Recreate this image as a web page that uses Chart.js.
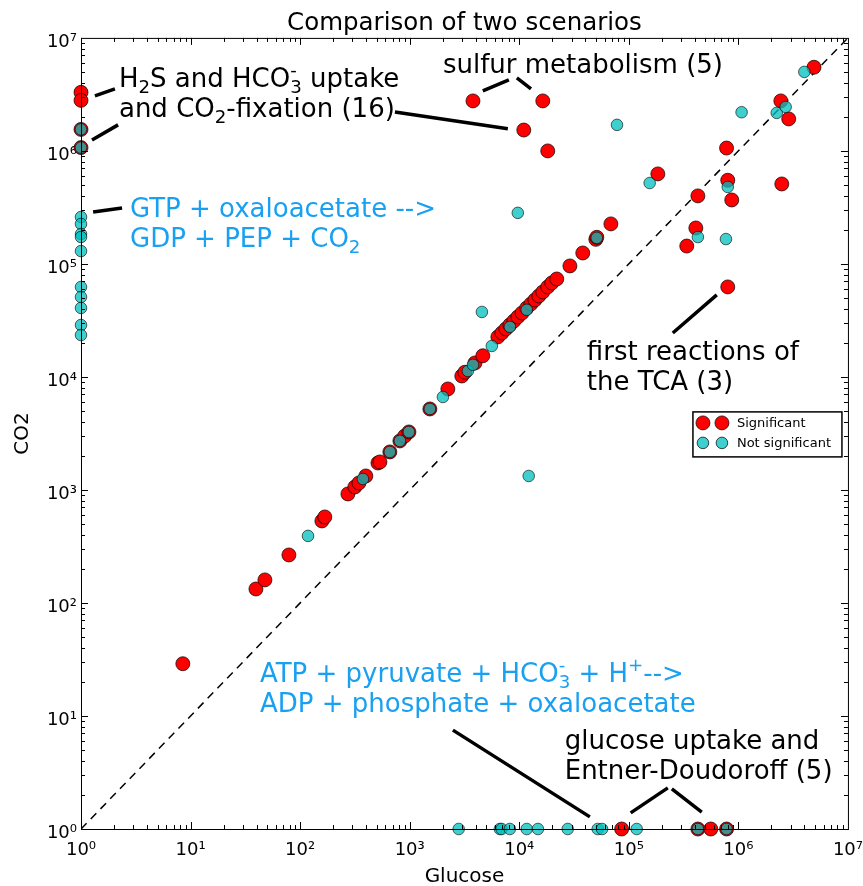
<!DOCTYPE html>
<html>
<head>
<meta charset="utf-8">
<script src="https://cdn.jsdelivr.net/npm/chart.js@4.4.1/dist/chart.umd.min.js"></script>
<style>
  html, body { margin: 0; padding: 0; background: #fff; }
  canvas { display: block; }
</style>
</head>
<body>
<canvas id="chart" width="863" height="886"></canvas>
<script>
// values (Glucose on x, CO2 on y)
const sigGlucose = [
    1, 1, 1, 1,
    86000, 427000, 560000, 780000,
    8.5, 39.5, 47.7, 79, 158, 168, 273, 316, 344, 398, 513, 535, 659, 814, 900, 984,
    1528, 2230, 2990, 3190, 3940, 4650,
    6380, 6940, 7550, 8210, 8930, 9710, 10600, 11700, 12800, 13900, 15100, 16400, 18200, 19800, 22000,
    29000, 38000, 50000, 51000, 68600,
    3780, 16400, 11000, 18200,
    184000, 427000, 409000, 338000, 780000, 800000, 870000, 800000,
    2440000, 2880000, 2490000, 4900000
];
const sigCO2 = [
    3300000, 2800000, 1550000, 1070000,
    1, 1, 1, 1,
    29, 133, 160, 266, 532, 577, 922, 1063, 1153, 1330, 1733, 1770, 2170, 2716, 3000, 3260,
    5210, 7830, 10200, 11000, 13300, 15400,
    22600, 24500, 26600, 28900, 31300, 34000, 36800, 40800, 44300, 48000, 52100, 56500, 62600, 67900, 73600,
    96000, 125000, 165000, 172000, 226000,
    2770000, 2770000, 1530000, 1000000,
    626000, 400000, 208000, 144000, 1060000, 550000, 368000, 62600,
    2770000, 1920000, 510000, 5500000
];
const nsGlucose = [
    1, 1, 1, 1, 1, 1, 1, 1, 1, 1, 1, 1,
    2800, 6650, 6900, 8200, 11700, 14800, 27700, 52000, 57000, 118000, 427000, 780000,
    118, 374, 659, 814, 984, 1528, 2010, 3400, 3780, 5620, 8210, 11700, 51000,
    4560, 9700, 12200, 78000, 155000, 427000, 770000, 800000, 1070000, 2240000, 2700000, 4000000
];
const nsCO2 = [
    1550000, 1070000, 260000, 226000, 184000, 173000, 130000, 62500, 51000, 40800, 28800, 23500,
    1, 1, 1, 1, 1, 1, 1, 1, 1, 1, 1, 1,
    392, 1251, 2170, 2716, 3260, 5210, 6650, 11300, 12800, 18800, 27700, 39200, 170000,
    37600, 283000, 1330, 1700000, 520000, 173000, 166000, 480000, 2200000, 2170000, 2450000, 5000000
];
const diagonal = [1, 1e7];
const decades = [1, 1e1, 1e2, 1e3, 1e4, 1e5, 1e6, 1e7];
const tickLabels = ['10⁰', '10¹', '10²', '10³', '10⁴', '10⁵', '10⁶', '10⁷'];

const RED = 'rgb(255, 0, 0)';
const CYAN = 'rgba(0, 191, 191, 0.75)';
const BLUE = 'rgb(25, 160, 240)';
const FONT = "'DejaVu Sans', sans-serif";

// annotation texts, anchored at data coords (left, first baseline)
const notes = [
    { x: 2.22, y: 3.68e6, color: '#000', lines: ['H_{2}S and HCO_{3}^{-} uptake', 'and CO_{2}-fixation (16)'] },
    { x: 2010, y: 4.9e6, color: '#000', lines: ['sulfur metabolism (5)'] },
    { x: 2.8, y: 2.6e5, color: BLUE, lines: ['GTP + oxaloacetate -->', 'GDP + PEP + CO_{2}'] },
    { x: 41400, y: 14100, color: '#000', lines: ['first reactions of', 'the TCA (3)'] },
    { x: 43, y: 20, color: BLUE, lines: ['ATP + pyruvate + HCO_{3}^{-} + H^{+}-->', 'ADP + phosphate + oxaloacetate'] },
    { x: 26000, y: 5.1, color: '#000', lines: ['glucose uptake and', 'Entner-Doudoroff (5)'] },
];
// pointer lines [x1, y1, x2, y2] in data coords
const pointers = [
    [1.34, 3.07e6, 2.04, 3.54e6],
    [1.26, 1.25e6, 2.18, 1.7e6],
    [733, 2.21e6, 7870, 1.57e6],
    [4650, 3.4e6, 8040, 4.25e6],
    [9510, 4.43e6, 12800, 3.54e6],
    [1.29, 2.88e5, 2.37, 3.13e5],
    [252000, 24500, 635000, 53200],
    [2480, 7.5, 44100, 1.28],
    [104000, 1.39, 227000, 2.31],
    [247000, 2.26, 463000, 1.41],
];

function zip(xs, ys) {
    return xs.map((x, i) => ({ x: x, y: ys[i] }));
}

// text with _{sub} and ^{sup}, sup right after sub is stacked
function drawRich(ctx, str, x, y, size) {
    const tokens = str.split(/(_\{[^}]*\}|\^\{[^}]*\})/).filter((t) => t.length);
    let subStart = null, subEnd = null;
    ctx.textBaseline = 'alphabetic';
    ctx.textAlign = 'left';
    tokens.forEach((t) => {
        if (t.startsWith('_{')) {
            const s = t.slice(2, -1);
            ctx.font = `${size * 0.7}px ${FONT}`;
            subStart = x;
            ctx.fillText(s, x, y + size * 0.22);
            x += ctx.measureText(s).width;
            subEnd = x;
        } else if (t.startsWith('^{')) {
            const s = t.slice(2, -1);
            ctx.font = `${size * 0.7}px ${FONT}`;
            const w = ctx.measureText(s).width;
            if (subStart !== null) {
                ctx.fillText(s, subStart, y - size * 0.42);
                x = Math.max(subEnd, subStart + w);
            } else {
                ctx.fillText(s, x, y - size * 0.42);
                x += w;
            }
            subStart = null;
        } else {
            ctx.font = `${size}px ${FONT}`;
            ctx.fillText(t, x, y);
            x += ctx.measureText(t).width;
            subStart = null;
        }
    });
}

const axesPlugin = {
    id: 'mplAxes',
    afterDraw(chart) {
        const { ctx, chartArea: a, scales: { x, y } } = chart;
        ctx.save();
        ctx.strokeStyle = '#000';
        ctx.lineWidth = 1;
        ctx.strokeRect(a.left + 0.5, a.top + 0.5, a.right - a.left, a.bottom - a.top);

        // inward ticks on all four sides
        ctx.beginPath();
        for (let d = 0; d < 7; d++) {
            for (let m = 1; m <= 9; m++) {
                const v = decades[d] * m;
                const len = m === 1 ? 7 : 4;
                const px = Math.round(x.getPixelForValue(v)) + 0.5;
                const py = Math.round(y.getPixelForValue(v)) + 0.5;
                ctx.moveTo(px, a.bottom); ctx.lineTo(px, a.bottom - len);
                ctx.moveTo(px, a.top); ctx.lineTo(px, a.top + len);
                ctx.moveTo(a.left, py); ctx.lineTo(a.left + len, py);
                ctx.moveTo(a.right, py); ctx.lineTo(a.right - len, py);
            }
        }
        ctx.stroke();

        // pointer lines
        ctx.lineWidth = 3.5;
        ctx.beginPath();
        pointers.forEach((p) => {
            ctx.moveTo(x.getPixelForValue(p[0]), y.getPixelForValue(p[1]));
            ctx.lineTo(x.getPixelForValue(p[2]), y.getPixelForValue(p[3]));
        });
        ctx.stroke();

        // annotation texts
        notes.forEach((n) => {
            ctx.fillStyle = n.color;
            const left = x.getPixelForValue(n.x);
            const base = y.getPixelForValue(n.y);
            n.lines.forEach((line, i) => drawRich(ctx, line, left, base + i * 30, 26));
        });

        // legend box
        const bx = a.right - 155, by = a.top + 374, bw = 149, bh = 45;
        ctx.fillStyle = '#fff';
        ctx.fillRect(bx, by, bw, bh);
        ctx.lineWidth = 1.5;
        ctx.strokeRect(bx, by, bw, bh);
        const rows = [
            { label: 'Significant', color: RED, r: 7 },
            { label: 'Not significant', color: CYAN, r: 5.8 },
        ];
        rows.forEach((row, i) => {
            const cy = by + 11 + i * 20;
            [bx + 10, bx + 29].forEach((cx) => {
                ctx.beginPath();
                ctx.arc(cx, cy, row.r, 0, Math.PI * 2);
                ctx.fillStyle = row.color;
                ctx.fill();
                ctx.lineWidth = 1;
                ctx.strokeStyle = 'rgba(0, 0, 0, 0.7)';
                ctx.stroke();
            });
            ctx.fillStyle = '#000';
            ctx.font = `13px ${FONT}`;
            ctx.textBaseline = 'middle';
            ctx.fillText(row.label, bx + 44, cy + 1);
        });
        ctx.restore();
    },
};

// ticks are drawn by the plugin; the invisible grid ticks only push labels away
const logAxis = (fit, tickLen) => ({
    type: 'logarithmic',
    min: 1,
    max: 1e7,
    grid: { display: true, drawOnChartArea: false, drawTicks: true, tickLength: tickLen, color: 'rgba(0,0,0,0)' },
    border: { display: false },
    afterBuildTicks: (scale) => {
        scale.ticks = decades.map((v) => ({ value: v }));
    },
    afterFit: fit,
    ticks: {
        autoSkip: false,
        maxRotation: 0,
        color: '#000',
        padding: 0,
        font: { family: FONT, size: 18 },
        callback: (value, index) => tickLabels[index],
    },
});

const xAxis = logAxis((scale) => { scale.height = 57; }, 11);
xAxis.title = { display: true, text: 'Glucose', color: '#000', padding: { top: 0, bottom: -3 }, font: { family: FONT, size: 20 } };
const yAxis = logAxis((scale) => { scale.width = 81; }, 4);
yAxis.ticks.labelOffset = 4;
yAxis.title = { display: true, text: 'CO2', color: '#000', padding: { top: 11, bottom: 0 }, font: { family: FONT, size: 20 } };

new Chart(document.getElementById('chart'), {
    type: 'scatter',
    data: {
        datasets: [
            {
                label: 'Not significant',
                data: zip(nsGlucose, nsCO2),
                backgroundColor: CYAN,
                borderColor: 'rgba(0, 0, 0, 0.6)',
                borderWidth: 1,
                pointRadius: 5.8,
                clip: false,
                order: 0,
            },
            {
                label: 'Significant',
                data: zip(sigGlucose, sigCO2),
                backgroundColor: RED,
                borderColor: 'rgba(0, 0, 0, 0.7)',
                borderWidth: 1,
                pointRadius: 7,
                clip: false,
                order: 1,
            },
            {
                type: 'line',
                label: 'x = y',
                data: zip(diagonal, diagonal),
                borderColor: '#000',
                borderWidth: 1.5,
                borderDash: [8, 6],
                pointRadius: 0,
                fill: false,
                order: 2,
            },
        ],
    },
    options: {
        responsive: false,
        animation: false,
        devicePixelRatio: 1,
        layout: { padding: { left: 0, right: 15, top: 0, bottom: 0 } },
        plugins: {
            legend: { display: false },
            tooltip: { enabled: false },
            title: {
                display: true,
                fullSize: false,
                text: 'Comparison of two scenarios',
                color: '#000',
                font: { family: FONT, size: 24.5, weight: 'normal' },
                padding: { top: 8.5, bottom: 0 },
            },
        },
        scales: { x: xAxis, y: yAxis },
    },
    plugins: [axesPlugin],
});
</script>
</body>
</html>
